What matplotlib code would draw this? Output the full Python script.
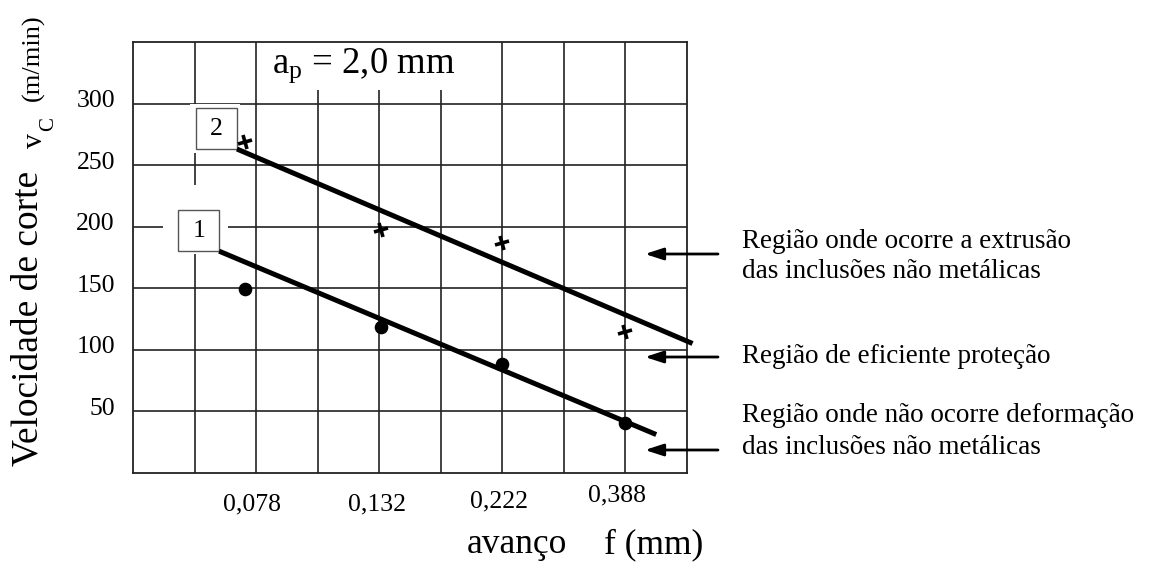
import matplotlib
matplotlib.use("Agg")
import matplotlib.pyplot as plt
from matplotlib.markers import MarkerStyle
from matplotlib.transforms import Affine2D, ScaledTranslation
from matplotlib.patches import Rectangle, FancyArrowPatch

# ---------------- data ----------------
feed_labels = ["0,078", "0,132", "0,222", "0,388"]      # avanço f (mm)
feed_pos = [2, 4, 6, 8]                                   # grid column of each label
y_ticks = [50, 100, 150, 200, 250, 300]

# measured points (x in grid columns, y = vc in m/min)
x_pts = [1.82, 4.03, 6.0, 8.0]
vc_curve2 = [269, 197, 187, 114]     # crosses, curve 2
vc_curve1 = [149, 118, 88, 40]       # dots, curve 1

# fitted lines (start/end)
fit2_x = [1.69, 9.09]
fit2_y = [263, 105]
fit1_x = [1.40, 8.50]
fit1_y = [180, 31]

region_texts = [
    ["Região onde ocorre a extrusão", "das inclusões não metálicas"],
    ["Região de eficiente proteção"],
    ["Região onde não ocorre deformação", "das inclusões não metálicas"],
]

# ---------------- style ----------------
W, H = 1149, 569
plt.rcParams["font.family"] = ["Liberation Serif", "DejaVu Serif"]
plt.rcParams["mathtext.fontset"] = "custom"
plt.rcParams["mathtext.rm"] = "Liberation Serif"
plt.rcParams["mathtext.it"] = "Liberation Serif:italic"

def fpx(x, y):
    return (x / W, 1 - y / H)

fig = plt.figure(figsize=(W / 100, H / 100), dpi=100)
ax = fig.add_axes([133 / W, (H - 472.7) / H, (687 - 133) / W, (472.7 - 42) / H])
ax.set_xlim(0, 9)
ax.set_ylim(0, 350)

gridc = "#222222"
for v in range(1, 9):
    ax.axvline(v, color=gridc, lw=1.2, zorder=1)
for v in range(50, 350, 50):
    ax.axhline(v, color=gridc, lw=1.2, zorder=1)
for s in ax.spines.values():
    s.set_color(gridc)
    s.set_linewidth(1.3)

ax.set_xticks(feed_pos)
ax.set_xticklabels(feed_labels, fontsize=18.5)
ax.set_yticks(y_ticks)
ax.set_yticklabels([str(v) for v in y_ticks], fontsize=18.5)
ax.tick_params(length=0)
ax.tick_params(axis="y", pad=13)
ax.tick_params(axis="x", pad=15)
for lab in ax.get_yticklabels():
    lab.set_transform(lab.get_transform() + ScaledTranslation(0, 5 / 100, fig.dpi_scale_trans))
x_off = [(-4, 0), (-2, 0), (-3, 3), (-8, 9)]
for lab, (dx, dy) in zip(ax.get_xticklabels(), x_off):
    lab.set_transform(lab.get_transform() + ScaledTranslation(dx / 100, dy / 100, fig.dpi_scale_trans))

# white backgrounds behind the labels inside the grid (x0, x1, y0, y1)
label_bgs = [(2.03, 5.4, 311, 350), (0.93, 1.74, 260, 299.5), (0.49, 1.54, 177.6, 233.6)]
for x0, x1, y0, y1 in label_bgs:
    ax.add_patch(Rectangle((x0, y0), x1 - x0, y1 - y0, facecolor="white",
                           edgecolor="none", zorder=2))

# fitted lines
ax.plot(fit2_x, fit2_y, color="black", lw=3.6, solid_capstyle="butt", zorder=4, clip_on=False)
ax.plot(fit1_x, fit1_y, color="black", lw=3.6, solid_capstyle="butt", zorder=4, clip_on=False)

# points
cross = MarkerStyle("+", transform=Affine2D().rotate_deg(15))
ax.plot(x_pts, vc_curve2, linestyle="none", marker=cross, markersize=10,
        mew=2.6, color="black", zorder=5)
ax.plot(x_pts, vc_curve1, linestyle="none", marker="o", markersize=8.8,
        color="black", zorder=5)

# curve number boxes (lower-right corner at line start)
box_w, box_h = 0.666, 33.3
for num, (cx, cy) in [("2", (fit2_x[0], fit2_y[0])), ("1", (fit1_x[0], fit1_y[0]))]:
    ax.add_patch(Rectangle((cx - box_w, cy), box_w, box_h, facecolor="white",
                           edgecolor="#555555", lw=1.0, zorder=3))
    ax.text(cx - box_w / 2, cy + box_h / 2, num, fontsize=18.5, ha="center",
            va="center", zorder=4)

# a_p annotation
ax.text(2.26, 325.5, r"$\mathrm{a_p}$ = 2,0 mm", fontsize=26.5, ha="left",
        va="baseline", zorder=4)

# axis labels
fig.text(*fpx(28, 466), "Velocidade de corte", rotation=90, fontsize=27,
         ha="center", va="bottom")
fig.text(*fpx(35.5, 148), "v", rotation=90, fontsize=21.5,
         ha="center", va="bottom")
fig.text(*fpx(49, 131), "C", rotation=90, fontsize=15,
         ha="center", va="bottom")
fig.text(*fpx(33, 101), "(m/min)", rotation=90, fontsize=19,
         ha="center", va="bottom")
fig.text(*fpx(467, 553), "avanço", fontsize=25.5, ha="left", va="baseline")
fig.text(*fpx(604, 553), "f (mm)", fontsize=25.5, ha="left", va="baseline")

# arrows and region texts
arrow_y = [254, 357, 450]
for ay in arrow_y:
    fig.add_artist(FancyArrowPatch(
        fpx(718, ay), fpx(645, ay), transform=fig.transFigure,
        arrowstyle="-|>,head_length=0.55,head_width=0.18", mutation_scale=20,
        lw=2.0, color="black", shrinkA=0, shrinkB=0))

text_baselines = [[248, 278], [363], [422, 454]]
for lines, bls in zip(region_texts, text_baselines):
    for t, b in zip(lines, bls):
        fig.text(*fpx(742, b), t, fontsize=19.5, ha="left", va="baseline")

fig.savefig("out.png", dpi=100, facecolor="white")
